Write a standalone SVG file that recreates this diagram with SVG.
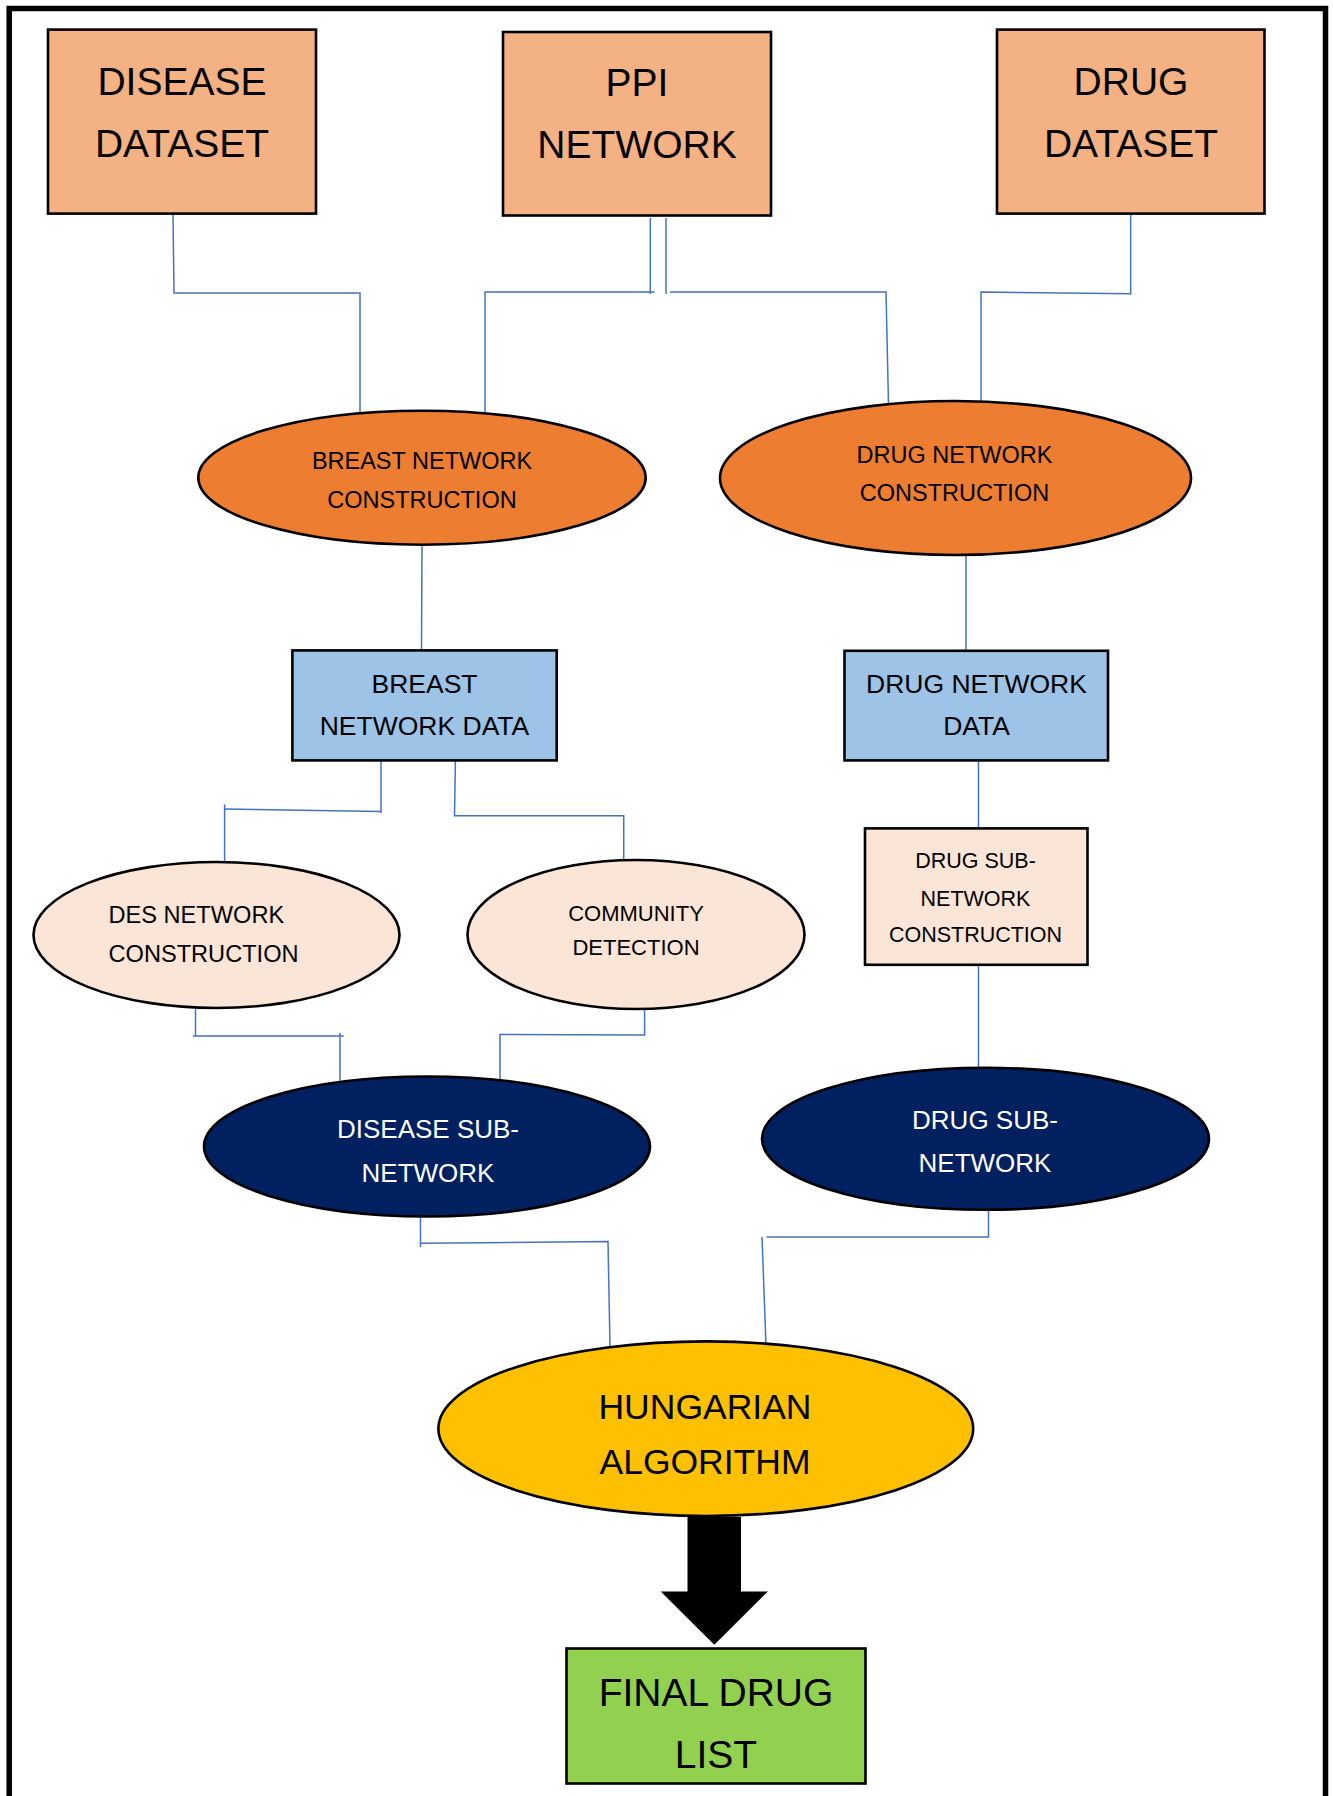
<svg xmlns="http://www.w3.org/2000/svg" width="1333" height="1796" viewBox="0 0 1333 1796">
<defs>
<style>
text{font-family:"Liberation Sans",Arial,sans-serif;text-anchor:middle;fill:#000}
.box{stroke:#000;stroke-width:2.6}
.peach{fill:#F4B183}
.orange{fill:#ED7D31}
.blue{fill:#9DC3E6}
.light{fill:#FBE5D6}
.navy{fill:#002060}
.gold{fill:#FFC000}
.green{fill:#92D050}
.conn line,.conn polyline{stroke:#4472C4;stroke-width:1.5;fill:none}
.w{fill:#fff}
</style>
</defs>
<rect width="1333" height="1796" fill="#fff"/>
<path d="M9.2 1800 V8.6 H1325.5 V1800" fill="none" stroke="#000" stroke-width="5.5"/>

<g class="conn" id="connectors">
<polyline points="173,215 174,293 360,293 360,418"/>
<line x1="650.3" y1="218" x2="650.3" y2="294"/>
<polyline points="654.5,292 485,292 485,418"/>
<line x1="666" y1="218" x2="666" y2="294"/>
<polyline points="670,292 886,292 888.5,405"/>
<polyline points="1130.7,215 1130.7,293.7 981,292 981,406"/>
<line x1="422" y1="545" x2="421.5" y2="650"/>
<line x1="966" y1="555" x2="966" y2="658"/>
<polyline points="381,761 381,813"/>
<polyline points="381,811.5 224.6,809"/>
<polyline points="224.6,804.5 224.6,862"/>
<polyline points="455.4,761 454.5,815.7 623.7,815.7 623.7,864"/>
<line x1="978.5" y1="759" x2="978.5" y2="832"/>
<line x1="978.5" y1="965" x2="978.5" y2="1077"/>
<polyline points="195.5,1003 195.5,1036 343.7,1036"/>
<line x1="193" y1="1036" x2="196" y2="1036"/>
<line x1="340" y1="1033" x2="340" y2="1080.5"/>
<polyline points="644.6,1002 644.6,1035 500,1034.4 500,1079.5"/>
<polyline points="420.5,1217 420.5,1247"/>
<polyline points="420.5,1243.3 608,1241.4 610,1346"/>
<polyline points="988.5,1209.5 988.5,1236.9 766.5,1236.9"/>
<line x1="762" y1="1237" x2="766" y2="1345.6"/>
</g>

<g id="disease-dataset">
<rect class="box peach" x="48" y="29.6" width="268" height="184"/>
<text x="182" y="94.6" font-size="39">DISEASE</text>
<text x="182" y="157" font-size="39">DATASET</text>
</g>
<g id="ppi-network">
<rect class="box peach" x="503" y="32" width="268" height="183.5"/>
<text x="637" y="96" font-size="39">PPI</text>
<text x="637" y="158" font-size="39">NETWORK</text>
</g>
<g id="drug-dataset">
<rect class="box peach" x="997" y="29.6" width="267.5" height="184"/>
<text x="1131" y="94.6" font-size="39">DRUG</text>
<text x="1131" y="157" font-size="39">DATASET</text>
</g>

<g id="breast-network-construction">
<ellipse class="box orange" cx="422" cy="477.7" rx="223.7" ry="67"/>
<text x="422" y="468.6" font-size="23.5">BREAST NETWORK</text>
<text x="422" y="508" font-size="23.5">CONSTRUCTION</text>
</g>
<g id="drug-network-construction">
<ellipse class="box orange" cx="955.5" cy="478" rx="235.5" ry="77"/>
<text x="954.5" y="463" font-size="23.5">DRUG NETWORK</text>
<text x="954.5" y="501" font-size="23.5">CONSTRUCTION</text>
</g>

<g id="breast-network-data">
<rect class="box blue" x="292.4" y="650.4" width="264.3" height="110"/>
<text x="424.5" y="693" font-size="26.5">BREAST</text>
<text x="424.5" y="734.7" font-size="26.5">NETWORK DATA</text>
</g>
<g id="drug-network-data">
<rect class="box blue" x="844.5" y="650.8" width="263.5" height="109.6"/>
<text x="976.5" y="693" font-size="26.5">DRUG NETWORK</text>
<text x="976.5" y="734.7" font-size="26.5">DATA</text>
</g>

<g id="des-network-construction">
<ellipse class="box light" cx="216.5" cy="935" rx="183" ry="73"/>
<text x="108.5" y="923.3" font-size="23.6" style="text-anchor:start">DES NETWORK</text>
<text x="108.5" y="962" font-size="23.6" style="text-anchor:start">CONSTRUCTION</text>
</g>
<g id="community-detection">
<ellipse class="box light" cx="636" cy="934.5" rx="168.5" ry="74.5"/>
<text x="636" y="920.5" font-size="22">COMMUNITY</text>
<text x="636" y="955.3" font-size="22">DETECTION</text>
</g>
<g id="drug-sub-network-construction">
<rect class="box light" x="865" y="828.4" width="222.5" height="136.4"/>
<text x="975.5" y="868" font-size="21.5">DRUG SUB-</text>
<text x="975.5" y="905.5" font-size="21.5">NETWORK</text>
<text x="975.5" y="942.3" font-size="21.5">CONSTRUCTION</text>
</g>

<g id="disease-sub-network">
<ellipse class="box navy" cx="427" cy="1146.5" rx="223" ry="70"/>
<text class="w" x="428" y="1138" font-size="26">DISEASE SUB-</text>
<text class="w" x="428" y="1181.5" font-size="26">NETWORK</text>
</g>
<g id="drug-sub-network">
<ellipse class="box navy" cx="985.5" cy="1138.8" rx="223.5" ry="71"/>
<text class="w" x="985" y="1129" font-size="26">DRUG SUB-</text>
<text class="w" x="985" y="1171.6" font-size="26">NETWORK</text>
</g>

<g id="hungarian-algorithm">
<ellipse class="box gold" cx="705.8" cy="1428.7" rx="267.4" ry="87.3"/>
<text x="705" y="1418.5" font-size="35.5">HUNGARIAN</text>
<text x="705" y="1474.4" font-size="35.5">ALGORITHM</text>
</g>

<g id="big-arrow">
<polygon points="687.5,1517 741,1517 741,1591.5 767.9,1591.5 714.3,1644.7 660.7,1591.5 687.5,1591.5" fill="#000"/>
</g>

<g id="final-drug-list">
<rect class="box green" x="566.5" y="1648.5" width="299" height="135"/>
<text x="716" y="1705.5" font-size="39">FINAL DRUG</text>
<text x="716" y="1768" font-size="39">LIST</text>
</g>
</svg>
